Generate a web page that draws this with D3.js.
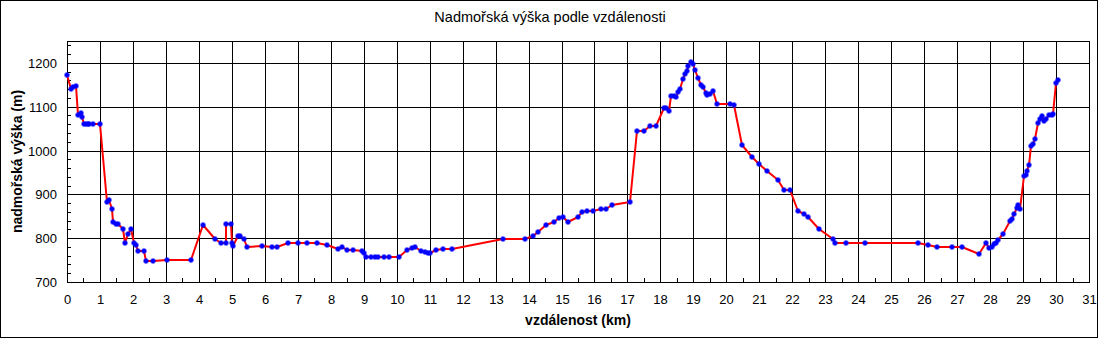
<!DOCTYPE html>
<html>
<head>
<meta charset="utf-8">
<script src="https://d3js.org/d3.v7.min.js"></script>
<style>
  body { margin: 0; background: #fff; }
  text { font-family: "Liberation Sans", Arial, sans-serif; fill: #000; }
  .axis path { display: none; }
  .axis line { stroke: #000; }
  .axis text { font-size: 13px; }
</style>
</head>
<body>
<div id="chart-area"></div>
<script>

// vzdálenost (km)
var dist = [0, 0.12, 0.17, 0.26, 0.34, 0.41, 0.47, 0.52, 0.58, 0.63, 0.68, 0.8, 1.0,
  1.2, 1.26, 1.35, 1.41, 1.5, 1.55, 1.71, 1.77, 1.85, 1.93, 2.02, 2.08, 2.14, 2.33,
  2.41, 2.6, 3.04, 3.76, 4.14, 4.5, 4.66, 4.81, 4.81, 4.96, 5.02, 5.05, 5.2, 5.24,
  5.36, 5.47, 5.9, 6.23, 6.36, 6.69, 7.0, 7.28, 7.57, 7.88, 8.23, 8.33, 8.49, 8.67,
  8.95, 9.0, 9.06, 9.21, 9.35, 9.43, 9.61, 9.78, 10.06, 10.3, 10.47, 10.55, 10.73,
  10.86, 10.94, 11.0, 11.18, 11.4, 11.67, 13.24, 13.89, 14.13, 14.29, 14.52, 14.77,
  14.92, 15.05, 15.21, 15.49, 15.63, 15.76, 15.96, 16.19, 16.35, 16.52, 17.08, 17.28,
  17.5, 17.68, 17.86, 18.11, 18.18, 18.25, 18.31, 18.42, 18.46, 18.52, 18.58, 18.69,
  18.74, 18.8, 18.84, 18.93, 19.0, 19.05, 19.13, 19.24, 19.28, 19.37, 19.42, 19.5,
  19.6, 19.71, 20.11, 20.23, 20.46, 20.77, 20.98, 21.23, 21.56, 21.75, 21.93, 22.18,
  22.35, 22.48, 22.8, 23.22, 23.3, 23.62, 24.2, 25.81, 26.12, 26.38, 26.85, 27.15,
  27.65, 27.89, 27.97, 28.05, 28.13, 28.17, 28.25, 28.4, 28.6, 28.65, 28.72, 28.81,
  28.84, 28.92, 29.03, 29.08, 29.12, 29.19, 29.25, 29.3, 29.37, 29.45, 29.52, 29.57,
  29.65, 29.7, 29.79, 29.88, 29.92, 29.99, 30.05]

// nadmořská výška (m)
var alt = [1173, 1140, 1146, 1147, 1080, 1085, 1076, 1060, 1060, 1060, 1060, 1060, 1060,
  883, 887, 867, 838, 833, 833, 822, 789, 810, 820, 790, 784, 770, 770,
  749, 749, 751, 751, 830, 799, 790, 790, 833, 833, 789, 783, 805, 805,
  797, 781, 783, 781, 779, 788, 790, 788, 790, 785, 776, 781, 774, 772,
  770, 767, 756, 758, 758, 758, 756, 756, 756, 772, 777, 779, 770,
  768, 767, 767, 774, 776, 776, 799, 799, 804, 813, 829, 838,
  847, 849, 838, 849, 859, 863, 863, 866, 866, 875, 883, 1044,
  1044, 1056, 1056, 1098, 1097, 1091, 1124, 1124, 1122, 1133, 1140, 1164,
  1175, 1181, 1192, 1203, 1198, 1184, 1166, 1150, 1145, 1132, 1126, 1130,
  1135, 1106, 1106, 1104, 1012, 985, 969, 953, 932, 910, 910, 863,
  855, 848, 820, 798, 790, 790, 790, 790, 785, 781, 781, 781,
  764, 789, 778, 780, 786, 789, 796, 810, 839, 844, 855, 870,
  875, 867, 943, 945, 954, 966, 1010, 1016, 1026, 1064, 1073, 1078,
  1067, 1073, 1081, 1081, 1084, 1155, 1160]

var xTicks = d3.range(0, 32)
var yTicks = [700, 800, 900, 1000, 1100, 1200]

var W = 1103, H = 338
var margin = { left: 67, right: 14, top: 41, bottom: 56 }
var width = W - margin.left - margin.right,
    height = H - margin.top - margin.bottom

var data = dist.map(function(d, i) { return { km: d, m: alt[i] } })

var svg = d3.select("#chart-area").append("svg")
    .attr("width", W)
    .attr("height", H)

// outer frame
svg.append("rect")
  .attr("x", 0.5).attr("y", 0.5)
  .attr("width", 1097).attr("height", 337)
  .attr("fill", "#fff")
  .attr("stroke", "#000")

svg.append("text")
  .attr("x", 550)
  .attr("y", 22)
  .attr("text-anchor", "middle")
  .attr("font-size", "14.5px")
  .text("Nadmořská výška podle vzdálenosti")

var g = svg.append("g")
    .attr("transform", "translate(" + margin.left + "," + margin.top + ")")

var x = d3.scaleLinear().domain([0, 31]).rangeRound([0, width])
var y = d3.scaleLinear().domain([700, 1250]).rangeRound([height, 0])

// grid
g.append("g")
  .attr("class", "axis")
  .call(d3.axisBottom(x).tickValues(xTicks).tickSize(height).tickFormat(""))

g.append("g")
  .attr("class", "axis")
  .call(d3.axisLeft(y).tickValues(yTicks).tickSize(-width).tickFormat(""))

// minor ticks
g.append("g")
  .attr("class", "axis")
  .attr("transform", "translate(0," + height + ")")
  .call(d3.axisBottom(x).tickValues(d3.range(0.5, 31, 1)).tickSize(-4).tickFormat(""))

g.append("g")
  .attr("class", "axis")
  .call(d3.axisLeft(y).tickValues(d3.range(720, 1250, 20)).tickSize(-4).tickFormat(""))

// frame of plot
g.append("rect")
  .attr("x", 0.5).attr("y", 0.5)
  .attr("width", width).attr("height", height)
  .attr("fill", "none")
  .attr("stroke", "#000")

// tick labels
g.append("g")
  .attr("class", "axis")
  .attr("transform", "translate(0," + height + ")")
  .call(d3.axisBottom(x).tickValues(xTicks).tickSize(0).tickPadding(13).tickFormat(d3.format("d")))

g.append("g")
  .attr("class", "axis")
  .call(d3.axisLeft(y).tickValues(yTicks).tickSize(0).tickPadding(10).tickFormat(d3.format("d")))

g.append("text")
  .attr("x", width / 2)
  .attr("y", height + 43)
  .attr("text-anchor", "middle")
  .attr("font-size", "14px")
  .attr("font-weight", "bold")
  .text("vzdálenost (km)")

g.append("text")
  .attr("transform", "translate(" + (22 - margin.left) + "," + (height / 2) + ") rotate(-90)")
  .attr("text-anchor", "middle")
  .attr("font-size", "14px")
  .attr("font-weight", "bold")
  .text("nadmořská výška (m)")

var line = d3.line()
  .x(function(d) { return x(d.km) })
  .y(function(d) { return y(d.m) })

g.append("path")
  .datum(data)
  .attr("d", line)
  .attr("fill", "none")
  .attr("stroke", "#ff0000")
  .attr("stroke-width", 2)
  .attr("stroke-linejoin", "round")

// markers (small plus-shaped squares)
g.selectAll(".pt")
  .data(data)
  .enter().append("path")
    .attr("class", "pt")
    .attr("transform", function(d) { return "translate(" + x(d.km) + "," + y(d.m) + ")" })
    .attr("d", "M-1.5,-2.5H1.5V-1.5H2.5V1.5H1.5V2.5H-1.5V1.5H-2.5V-1.5H-1.5Z")
    .attr("fill", "#0000ff")

</script>
</body>
</html>
